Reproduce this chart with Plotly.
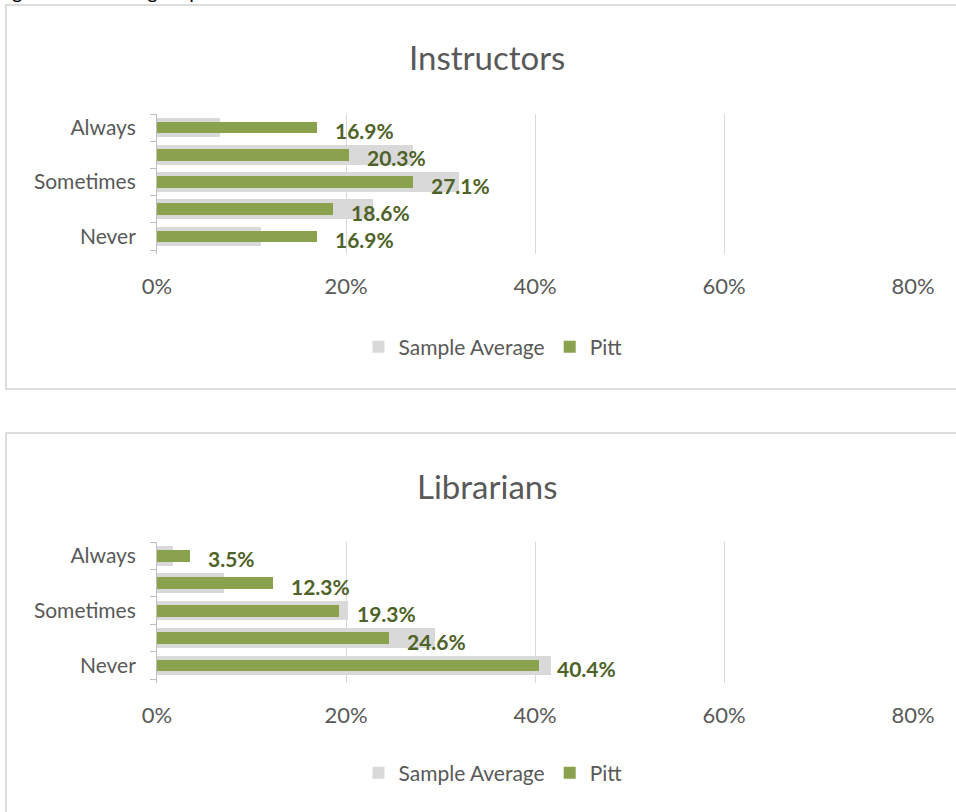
import plotly.graph_objects as go

# ---- data ----
categories = ["Always", " ", "Sometimes", "  ", "Never"]
tick_vals = [0, 0.2, 0.4, 0.6, 0.8]
inst_sample = [0.067, 0.271, 0.320, 0.229, 0.110]
inst_pitt = [0.169, 0.203, 0.271, 0.186, 0.169]
lib_sample = [0.017, 0.071, 0.202, 0.294, 0.417]
lib_pitt = [0.035, 0.123, 0.193, 0.246, 0.404]
panel_titles = ["Instructors", "Librarians"]
series_names = ["Sample Average", "Pitt"]

W, H = 956, 812
GRAY = "#D9D9D9"
GREEN = "#8AA14D"
LABEL_GREEN = "#4F6228"
TEXT = "#595959"
FONT = "Lato"

def px(x):
    return x / W

def py(y):
    return 1 - y / H

fig = go.Figure()

panels = [
    dict(sample=inst_sample, pitt=inst_pitt, xa="x", ya="y", legend="legend",
         ydom=[py(254), py(114)], title_y=57, legend_y=347),
    dict(sample=lib_sample, pitt=lib_pitt, xa="x2", ya="y2", legend="legend2",
         ydom=[py(683), py(542)], title_y=486, legend_y=773),
]

annotations = []
for i, p in enumerate(panels):
    fig.add_trace(go.Bar(
        x=p["sample"], y=categories, orientation="h", name=series_names[0],
        marker=dict(color=GRAY, line=dict(width=0)), width=0.72,
        xaxis=p["xa"], yaxis=p["ya"], legend=p["legend"], hoverinfo="x+y"))
    fig.add_trace(go.Bar(
        x=p["pitt"], y=categories, orientation="h", name=series_names[1],
        marker=dict(color=GREEN, line=dict(width=0)), width=0.43,
        xaxis=p["xa"], yaxis=p["ya"], legend=p["legend"], hoverinfo="x+y"))
    for v, c in zip(p["pitt"], categories):
        annotations.append(dict(
            x=v, y=c, xref=p["xa"], yref=p["ya"], text=f"<b>{v*100:.1f}%</b>",
            showarrow=False, xanchor="left", yanchor="middle", xshift=16, yshift=-3,
            font=dict(family=FONT, size=21, color=LABEL_GREEN)))
    annotations.append(dict(
        x=px(487), y=py(p["title_y"]), xref="paper", yref="paper",
        text=panel_titles[i], showarrow=False, xanchor="center", yanchor="middle",
        font=dict(family=FONT, size=33, color=TEXT)))

# partially cut caption at very top
annotations.append(dict(
    x=0, y=1, xref="paper", yref="paper", text="Figure 11. Seeking help",
    showarrow=False, xanchor="left", yanchor="bottom", xshift=-6, yshift=-5,
    font=dict(family=FONT, size=20, color="#000000")))

axis_x = dict(range=[0, 0.8], tickvals=tick_vals, tickformat=".0%",
              showgrid=True, gridcolor=GRAY, gridwidth=1, zeroline=False,
              showline=False, ticks="", domain=[px(157), px(913)],
              tickfont=dict(family=FONT, size=22, color=TEXT),
              ticklabelstandoff=17, fixedrange=True, automargin=False)
axis_y = dict(type="category", categoryorder="array",
              categoryarray=categories[::-1], showline=True, linecolor="#BFBFBF",
              linewidth=1, ticks="outside", tickson="boundaries", ticklen=6,
              tickcolor="#BFBFBF", showgrid=False, zeroline=False,
              tickfont=dict(family=FONT, size=21, color=TEXT),
              ticklabelstandoff=16, fixedrange=True, automargin=False)

legend_style = dict(orientation="h", x=px(493), xanchor="center",
                    yanchor="middle", font=dict(family=FONT, size=21, color=TEXT),
                    itemwidth=30, traceorder="normal", bgcolor="rgba(0,0,0,0)")

fig.update_layout(
    width=W, height=H, margin=dict(l=0, r=0, t=0, b=0, autoexpand=False),
    autosize=False,
    paper_bgcolor="white", plot_bgcolor="white",
    barmode="overlay", bargap=0,
    font=dict(family=FONT, color=TEXT),
    xaxis=dict(axis_x, anchor="y"),
    yaxis=dict(axis_y, anchor="x", domain=panels[0]["ydom"]),
    xaxis2=dict(axis_x, anchor="y2"),
    yaxis2=dict(axis_y, anchor="x2", domain=panels[1]["ydom"]),
    legend=dict(legend_style, y=py(panels[0]["legend_y"])),
    legend2=dict(legend_style, y=py(panels[1]["legend_y"])),
    annotations=annotations,
    shapes=[
        dict(type="rect", xref="paper", yref="paper", x0=px(6), x1=1.05,
             y0=py(389), y1=py(5), line=dict(color="#DDDDDD", width=2), layer="below"),
        dict(type="rect", xref="paper", yref="paper", x0=px(6), x1=1.05,
             y0=-0.05, y1=py(433), line=dict(color="#DDDDDD", width=2), layer="below"),
    ],
    showlegend=True,
)

post = ("document.documentElement.style.margin='0';"
        "document.body.style.margin='0';"
        "document.body.style.padding='0';"
        "document.documentElement.style.overflow='hidden';"
        "document.body.style.overflow='hidden';")

fig.write_html("out.html", config={"responsive": False, "displayModeBar": False},
               post_script=post)
